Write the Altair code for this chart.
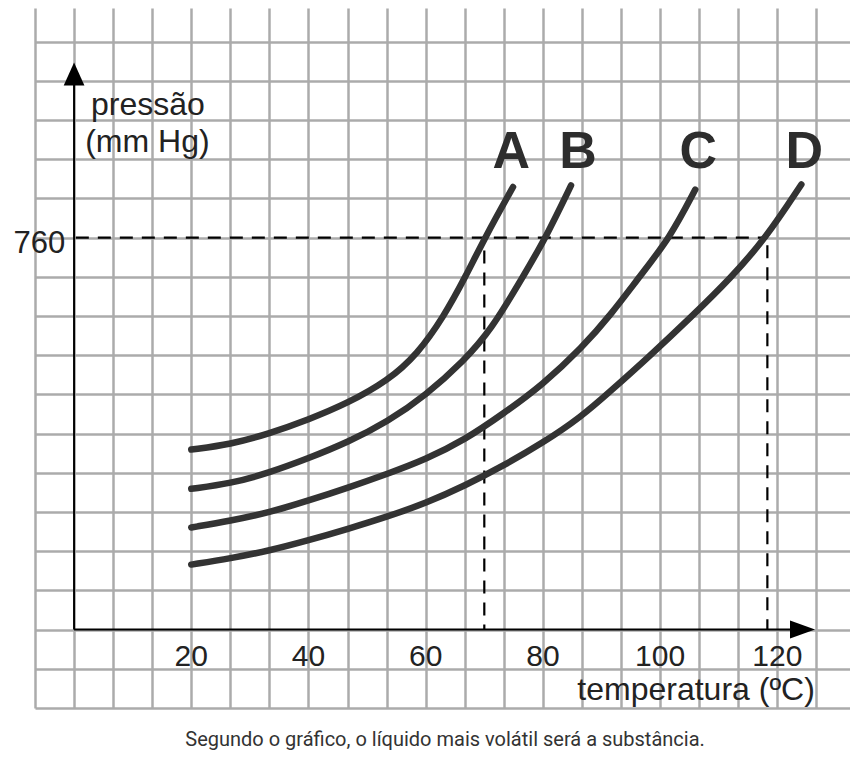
import altair as alt
import pandas as pd

# ---------------- data ----------------
substances = ["A", "B", "C", "D"]

temps_A = [20, 26.7, 33.3, 40, 46.7, 53.5, 58.6, 63.1, 66.8, 70.1, 74.9]
press_A = [349, 359, 380, 407, 439, 482, 534, 607, 684, 760, 858]

temps_B = [20, 26.7, 33.3, 40, 46.7, 53.5, 60, 66.6, 71.1, 76.6, 80.5, 84.8]
press_B = [273, 283, 304, 332, 363, 403, 454, 522, 580, 684, 760, 861]

temps_C = [20, 26.7, 33.3, 40, 46.7, 53.5, 60, 66.7, 73.3, 80, 86.7, 91.5, 96.6, 101.7, 106]
press_C = [198, 211, 227, 250, 275, 302, 330, 368, 419, 475, 547, 609, 686, 760, 853]

temps_D = [20, 26.7, 33.3, 40, 46.7, 53.5, 60, 66.7, 73.3, 80, 86.5, 91.6, 97.9, 105.2, 112.1, 118.1, 124.1]
press_D = [126, 138, 153, 173, 195, 219, 245, 279, 318, 362, 412, 463, 527, 605, 682, 760, 863]

x_tick_labels = [20, 40, 60, 80, 100, 120]
ref_pressure = 760
boiling_A = 70
boiling_D = 118.3

caption = "Segundo o gráfico, o líquido mais volátil será a substância."

# ---------------- scales / grid ----------------
X0, X1 = -20 / 3, 132.4
Y0, Y1 = -152, 1205
grid_x = [X0 + k * 20 / 3 for k in range(21)]
grid_y = [Y0 + 76 * k for k in range(18)]

xs = alt.Scale(domain=[X0, X1], nice=False, zero=False)
ys = alt.Scale(domain=[Y0, Y1], nice=False, zero=False)
GRID = "#ababab"
xaxis = alt.Axis(values=grid_x, grid=True, labels=False, ticks=False, domain=False,
                 title=None, gridColor=GRID, gridWidth=2.5, gridOpacity=1)
yaxis = alt.Axis(values=grid_y, grid=True, labels=False, ticks=False, domain=False,
                 title=None, gridColor=GRID, gridWidth=2.5, gridOpacity=1)
X = alt.X("x:Q", scale=xs, axis=xaxis)
Y = alt.Y("y:Q", scale=ys, axis=yaxis)
X2 = alt.X2("x2:Q")
Y2 = alt.Y2("y2:Q")

# ---------------- curves ----------------
rows = []
for s, ts, ps in zip(substances, [temps_A, temps_B, temps_C, temps_D],
                     [press_A, press_B, press_C, press_D]):
    for i, (t, p) in enumerate(zip(ts, ps)):
        rows.append({"x": t, "y": p, "s": s, "i": i})
curves_df = pd.DataFrame(rows)

curves = alt.Chart(curves_df).mark_line(
    interpolate="basis", strokeWidth=6.5, strokeCap="round", color="#333333"
).encode(x=X, y=Y, detail="s:N", order="i:Q")

# ---------------- axes ----------------
axes_df = pd.DataFrame([
    {"x": 0, "x2": 0, "y": 0, "y2": 1065},
    {"x": 0, "x2": 122.5, "y": 0, "y2": 0},
])
axes = alt.Chart(axes_df).mark_rule(color="black", strokeWidth=2).encode(
    x=X, x2=X2, y=Y, y2=Y2)

arrow_up = alt.Chart(pd.DataFrame([{"x": 0, "y": 1077}])).mark_point(
    shape="M0,-1L0.9,1L-0.9,1Z", size=529, filled=True, color="black",
    opacity=1, strokeWidth=0).encode(x=X, y=Y)
arrow_right = alt.Chart(pd.DataFrame([{"x": 124.3, "y": 0}])).mark_point(
    shape="M1,0L-1,-0.72L-1,0.72Z", size=625, filled=True, color="black",
    opacity=1, strokeWidth=0).encode(x=X, y=Y)

# ---------------- dashed guides ----------------
dash_df = pd.DataFrame([
    {"x": 0.3, "x2": boiling_D, "y": ref_pressure, "y2": ref_pressure},
    {"x": boiling_A, "x2": boiling_A, "y": 735, "y2": 0},
    {"x": boiling_D, "x2": boiling_D, "y": 745, "y2": 0},
])
dashes = alt.Chart(dash_df).mark_rule(color="black", strokeWidth=2.2,
                                      strokeDash=[13, 9]).encode(
    x=X, x2=X2, y=Y, y2=Y2)

# ---------------- texts ----------------
FONT = "Liberation Sans"
TXT = "#222222"

def text_layer(df, **kw):
    return alt.Chart(df).mark_text(**kw).encode(x=X, y=Y, text="t:N")

tick_df = pd.DataFrame({"x": x_tick_labels, "y": [-70] * len(x_tick_labels),
                        "t": [str(v) for v in x_tick_labels]})
ticks = text_layer(tick_df, font=FONT, fontSize=30, color=TXT, align="center",
                   baseline="alphabetic")

ylab = text_layer(pd.DataFrame([{"x": -1.5, "y": 731, "t": str(ref_pressure)}]),
                  font=FONT, fontSize=31, color=TXT, align="right", baseline="alphabetic")

ytitle = text_layer(pd.DataFrame([
    {"x": 2.9, "y": 997, "t": "pressão"},
    {"x": 1.9, "y": 925, "t": "(mm Hg)"},
]), font=FONT, fontSize=32, color=TXT, align="left", baseline="alphabetic")

xtitle = text_layer(pd.DataFrame([{"x": 126.4, "y": -136, "t": "temperatura (ºC)"}]),
                    font=FONT, fontSize=32, color=TXT, align="right", baseline="alphabetic")

letters = text_layer(pd.DataFrame({"x": [74.6, 86.0, 106.5, 124.6],
                                   "y": [894] * 4, "t": substances}),
                     font=FONT, fontSize=52, fontWeight="bold", color="#2d2d2d",
                     align="center", baseline="alphabetic")

cap = text_layer(pd.DataFrame([{"x": 63.3, "y": -225, "t": caption}]),
                 font="Roboto", fontSize=20, color="#333333", align="center",
                 baseline="alphabetic")

chart = alt.layer(
    dashes, axes, arrow_up, arrow_right, curves, ticks, ylab, ytitle, xtitle, letters, cap
).properties(
    width=815, height=700,
    autosize=alt.AutoSizeParams(type="none"),
    padding={"left": 27, "top": 0, "right": 0, "bottom": 51},
    background="white",
).configure_view(stroke=None)

chart.save("out.html", embed_options={"renderer": "svg", "actions": False})
